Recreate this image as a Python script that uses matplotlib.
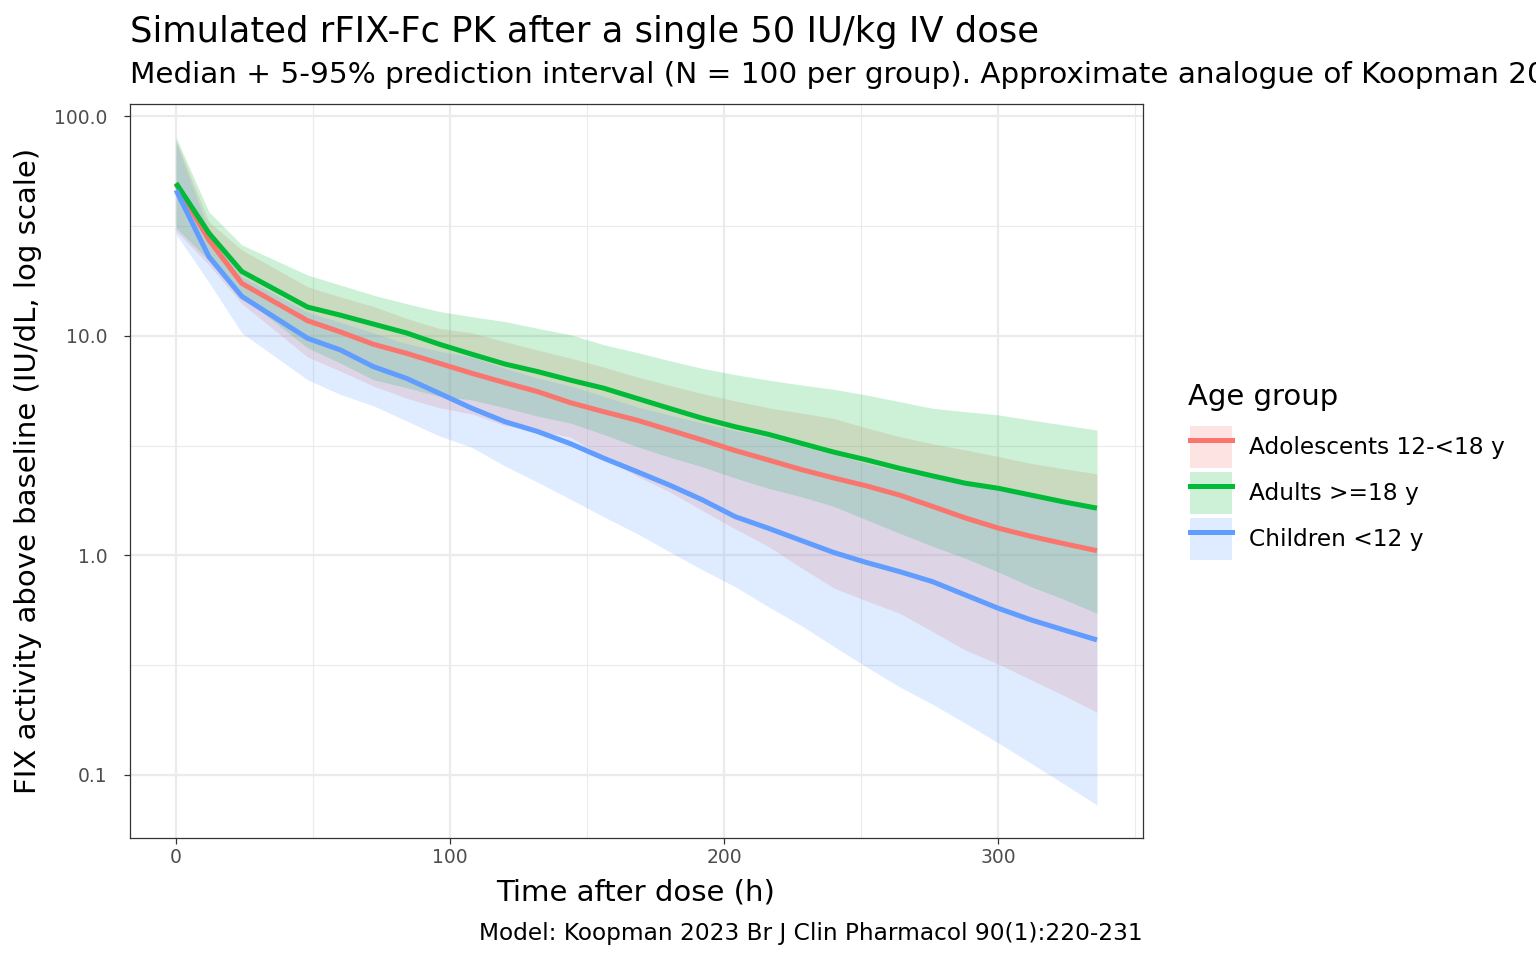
import numpy as np
import matplotlib
matplotlib.use("Agg")
import matplotlib.pyplot as plt
from matplotlib.patches import Patch
from matplotlib.lines import Line2D

# czasy (h)
time_h = [0, 12, 24, 48, 60, 72, 84, 96, 108, 120, 132, 144, 156, 168, 180,
          192, 204, 216, 228, 240, 252, 264, 276, 288, 300, 312, 324, 336]

groups = ["Adolescents 12-<18 y", "Adults >=18 y", "Children <12 y"]
colors = ["#F8766D", "#00BA38", "#619CFF"]

# mediany
adol_med = [49.0, 27.3, 17.3, 11.7, 10.4, 9.14, 8.32, 7.49, 6.74, 6.11, 5.56, 4.95,
            4.51, 4.13, 3.72, 3.35, 3.00, 2.72, 2.46, 2.25, 2.07, 1.88, 1.67, 1.48,
            1.33, 1.22, 1.13, 1.05]
adult_med = [49.5, 29.3, 19.6, 13.5, 12.4, 11.3, 10.3, 9.15, 8.23, 7.43, 6.86, 6.27,
             5.77, 5.19, 4.67, 4.21, 3.85, 3.56, 3.24, 2.95, 2.72, 2.49, 2.30, 2.13,
             2.02, 1.88, 1.75, 1.64]
child_med = [46.0, 22.9, 15.1, 9.73, 8.61, 7.23, 6.40, 5.47, 4.67, 4.06, 3.66, 3.22,
             2.77, 2.41, 2.09, 1.79, 1.50, 1.33, 1.17, 1.03, 0.927, 0.843, 0.759, 0.660,
             0.574, 0.508, 0.457, 0.412]

# 95 percentyl
adol_hi = [78, 33, 24.6, 16.7, 15.0, 13.6, 12.0, 10.8, 10.3, 9.4, 8.6, 7.9, 7.2, 6.5,
           5.95, 5.45, 5.05, 4.7, 4.45, 4.2, 3.8, 3.47, 3.22, 3.02, 2.82, 2.62, 2.48, 2.35]
adult_hi = [80, 36.6, 25.9, 18.9, 17.0, 15.3, 14.0, 12.9, 12.2, 11.6, 10.8, 10.1, 9.1,
            8.4, 7.7, 7.1, 6.65, 6.28, 5.97, 5.7, 5.37, 5.01, 4.67, 4.51, 4.36, 4.13,
            3.92, 3.72]
child_hi = [76, 30, 18.6, 12.8, 11.5, 10.3, 9.2, 8.5, 8.0, 7.1, 6.4, 5.9, 5.3, 4.75,
            4.35, 4.0, 3.7, 3.45, 3.15, 2.87, 2.62, 2.4, 2.25, 2.1, 1.98, 1.85, 1.72, 1.62]

# 5 percentyl
adol_lo = [30, 21, 14.0, 8.0, 6.9, 5.9, 5.2, 4.7, 4.4, 3.9, 3.7, 3.45, 2.8, 2.3, 1.95,
           1.6, 1.32, 1.10, 0.88, 0.71, 0.62, 0.545, 0.45, 0.37, 0.32, 0.271, 0.23, 0.193]
adult_lo = [31, 22, 15.1, 8.8, 7.5, 6.3, 5.8, 5.3, 5.1, 4.7, 4.3, 4.0, 3.55, 3.13, 2.8,
            2.53, 2.25, 2.02, 1.85, 1.67, 1.45, 1.26, 1.1, 0.97, 0.84, 0.72, 0.63, 0.545]
child_lo = [29, 17.5, 10.3, 6.3, 5.4, 4.8, 4.1, 3.5, 3.1, 2.55, 2.15, 1.8, 1.5, 1.26,
            1.04, 0.86, 0.72, 0.585, 0.48, 0.385, 0.31, 0.252, 0.21, 0.172, 0.14, 0.113,
            0.091, 0.073]

meds = [adol_med, adult_med, child_med]
his = [adol_hi, adult_hi, child_hi]
los = [adol_lo, adult_lo, child_lo]

fig = plt.figure(figsize=(10.24, 6.4), dpi=150)
ax = fig.add_axes([130 / 1536, 1 - 838 / 960, (1143 - 130) / 1536, (838 - 104) / 960])

# wstegi
for lo, hi, c in zip(los, his, colors):
    ax.fill_between(time_h, lo, hi, color=c, alpha=0.2, linewidth=0, zorder=2)
# linie
for med, c in zip(meds, colors):
    ax.plot(time_h, med, color=c, linewidth=2.4, zorder=3, solid_capstyle="butt")

ax.set_yscale("log")
ax.set_xlim(-16.8, 352.8)
ax.set_ylim(10 ** -1.287, 10 ** 2.055)
ax.set_xticks([0, 100, 200, 300])
ax.set_xticks([50, 150, 250, 350], minor=True)
ax.set_yticks([0.1, 1, 10, 100])
ax.set_yticklabels(["0.1", "1.0", "10.0", "100.0"])
ax.set_yticks([10 ** -0.5, 10 ** 0.5, 10 ** 1.5], minor=True)
ax.yaxis.set_minor_formatter(matplotlib.ticker.NullFormatter())

ax.grid(True, which="major", color="#EBEBEB", linewidth=1.1, zorder=0)
ax.grid(True, which="minor", color="#EBEBEB", linewidth=0.55, zorder=0)
ax.set_axisbelow(True)
for s in ax.spines.values():
    s.set_color("#333333")
    s.set_linewidth(0.6)
ax.tick_params(which="major", length=2.75, width=0.6, color="#333333",
               labelcolor="#4D4D4D", labelsize=9, pad=2.2)
ax.tick_params(axis="y", which="major", pad=8)
ax.tick_params(which="minor", length=0)

# opisy osi
fig.text(636 / 1536, 1 - 900 / 960, "Time after dose (h)", fontsize=14,
         ha="center", va="baseline")
fig.text(28 / 1536, 1 - 471 / 960, "FIX activity above baseline (IU/dL, log scale)",
         fontsize=14, rotation=90, ha="center", va="center")

fig.text(130 / 1536, 1 - 42 / 960, "Simulated rFIX-Fc PK after a single 50 IU/kg IV dose",
         fontsize=16.9, ha="left", va="baseline")
fig.text(130 / 1536, 1 - 83 / 960,
         "Median + 5-95% prediction interval (N = 100 per group). Approximate analogue of Koopman 2023",
         fontsize=14.15, ha="left", va="baseline")
fig.text(1143 / 1536, 1 - 940 / 960, "Model: Koopman 2023 Br J Clin Pharmacol 90(1):220-231",
         fontsize=11.2, ha="right", va="baseline")

# legenda
fig.text(1188 / 1536, 1 - 405 / 960, "Age group", fontsize=14, ha="left", va="baseline")
handles = [(Patch(facecolor=c, alpha=0.2, linewidth=0), Line2D([], [], color=c, linewidth=2.4))
           for c in colors]
fig.legend(handles, groups, loc="upper left", bbox_to_anchor=(1190 / 1536, 1 - 426 / 960),
           frameon=False, fontsize=11.2, handlelength=1.8, handleheight=2.4,
           labelspacing=0.17, handletextpad=0.73, borderpad=0, borderaxespad=0)

fig.savefig("out.png", dpi=150)
